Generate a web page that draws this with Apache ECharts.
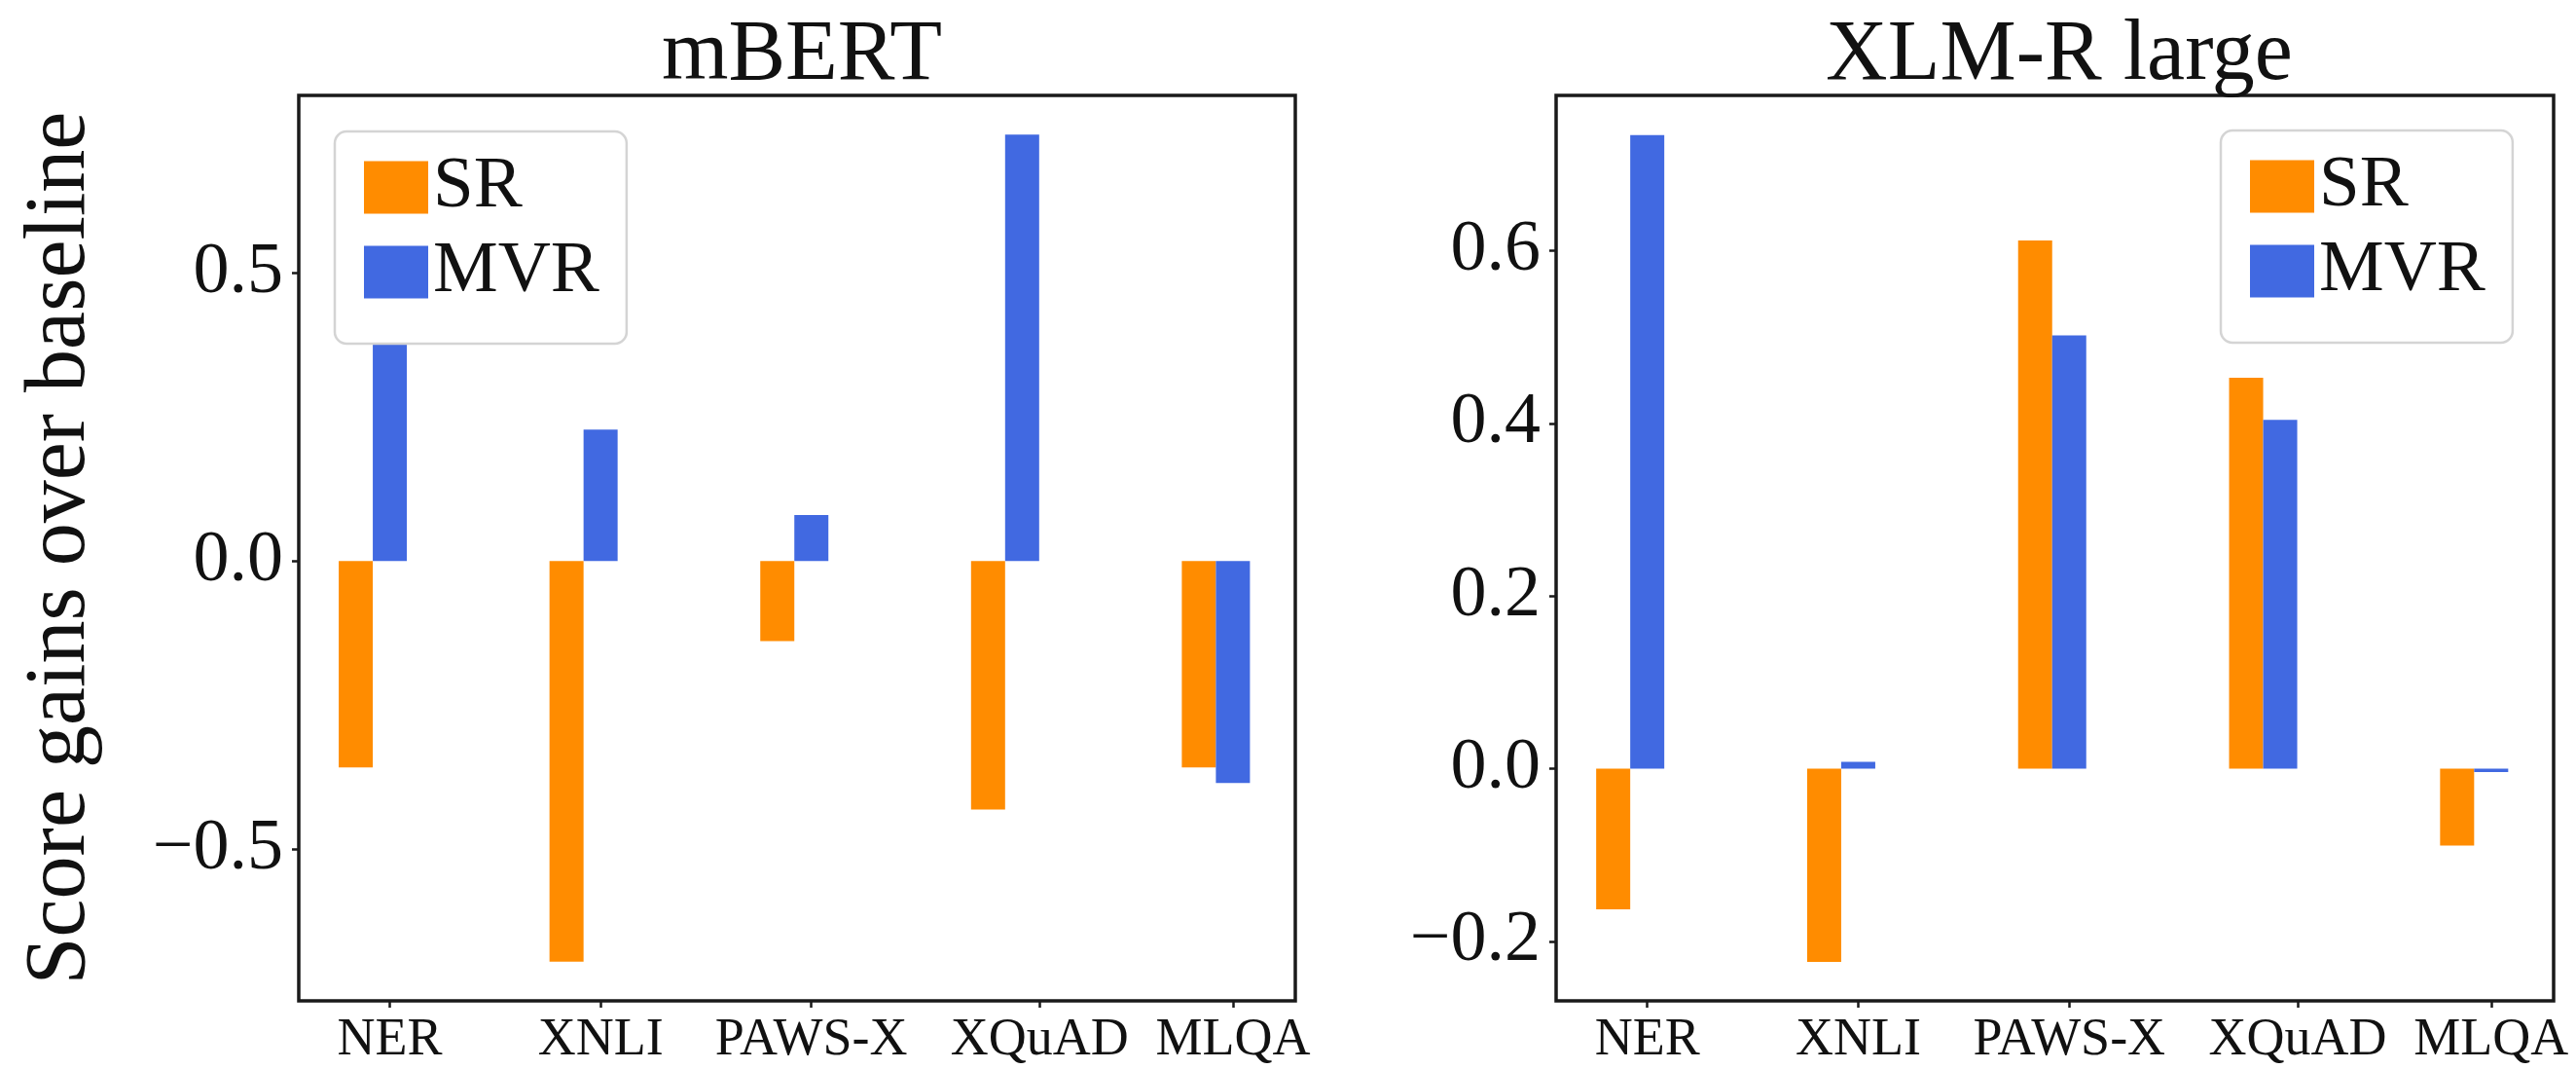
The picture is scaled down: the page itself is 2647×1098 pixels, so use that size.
<!DOCTYPE html>
<html>
<head>
<meta charset="utf-8">
<script src="https://cdn.jsdelivr.net/npm/echarts@6.0.0/dist/echarts.min.js"></script>
<style>
  html, body { margin: 0; padding: 0; background: #fff; }
  #main { width: 2647px; height: 1098px; }
</style>
</head>
<body>
<div id="main"></div>
<script>
var cats = ['NER', 'XNLI', 'PAWS-X', 'XQuAD', 'MLQA'];
var seriesNames = ['SR', 'MVR'];

// mBERT (left)
var mbertSR = [-0.358, -0.695, -0.139, -0.431, -0.358];
var mbertMVR = [0.55, 0.228, 0.080, 0.740, -0.385];
var mbertTicks = [-0.5, 0, 0.5];

// XLM-R large (right)
var xlmrSR = [-0.163, -0.224, 0.612, 0.453, -0.089];
var xlmrMVR = [0.734, 0.008, 0.502, 0.404, -0.004];
var xlmrTicks = [-0.2, 0, 0.2, 0.4, 0.6];

var FONT = 'Liberation Serif';
var ORANGE = '#FF8C00';
var BLUE = '#4169E1';
var INK = '#1a1a1a';

// the XQuAD tick sits a bit right of its bar in the original
var tickPos = cats.map(function (c, i) { return c === 'XQuAD' ? i + 0.083 : i; });

function pts(vals) {
    return vals.map(function (v, i) { return [i, v]; });
}

function fmtY(v) {
    var s = Math.abs(v).toFixed(1);
    return v < 0 ? '\u2212' + s : s;
}

function fmtX(v) {
    var best = 0;
    for (var i = 0; i < tickPos.length; i++) {
        if (Math.abs(tickPos[i] - v) < Math.abs(tickPos[best] - v)) best = i;
    }
    return cats[best];
}

function xAxis(idx) {
    return {
        type: 'value', gridIndex: idx, min: -0.432, max: 4.296,
        axisLine: { show: false, onZero: false },
        splitLine: { show: false },
        axisTick: { customValues: tickPos, length: 7, lineStyle: { color: INK, width: 2.5 } },
        axisLabel: { customValues: tickPos, formatter: fmtX, margin: 14,
            fontFamily: FONT, fontSize: 54, color: '#111' }
    };
}

function yAxis(idx, min, max, ticks, name) {
    var ax = {
        type: 'value', gridIndex: idx, min: min, max: max,
        axisLine: { show: false, onZero: false },
        splitLine: { show: false },
        axisTick: { customValues: ticks, length: 7, lineStyle: { color: INK, width: 2.5 } },
        axisLabel: { customValues: ticks, formatter: fmtY, margin: 16,
            fontFamily: FONT, fontSize: 74, color: '#111' }
    };
    if (name) {
        ax.name = name;
        ax.nameLocation = 'middle';
        ax.nameRotate = 90;
        ax.nameGap = 200;
        ax.nameTextStyle = { fontFamily: FONT, fontSize: 88, color: '#111' };
    }
    return ax;
}

function legend(left, top) {
    return {
        data: seriesNames, orient: 'vertical', left: left, top: top, z: 10,
        icon: 'rect', itemWidth: 66, itemHeight: 54, itemGap: 12,
        padding: [20, 28, 36, 30],
        backgroundColor: '#fff', borderColor: '#d4d4d4', borderWidth: 2.5, borderRadius: 12,
        selectedMode: false,
        textStyle: { fontFamily: FONT, fontSize: 75, color: '#111' }
    };
}

function bars(idx, sr, mvr) {
    return [
        { name: 'SR', type: 'bar', xAxisIndex: idx, yAxisIndex: idx, data: pts(sr),
          barWidth: 35, barGap: '0%', itemStyle: { color: ORANGE } },
        { name: 'MVR', type: 'bar', xAxisIndex: idx, yAxisIndex: idx, data: pts(mvr),
          barWidth: 35, barGap: '0%', itemStyle: { color: BLUE } },
        // empty slot so MVR lands on the tick, SR to its left
        { name: 'pad' + idx, type: 'bar', xAxisIndex: idx, yAxisIndex: idx, silent: true,
          data: pts(sr.map(function () { return 0; })),
          barWidth: 35, barGap: '0%', itemStyle: { opacity: 0 } }
    ];
}

var myChart = echarts.init(document.getElementById('main'));
var option = {
    backgroundColor: '#fff',
    animation: false,
    title: [
        { text: 'mBERT', left: 819, top: 9, textAlign: 'center',
          textStyle: { fontFamily: FONT, fontSize: 88, fontWeight: 'normal', color: '#111' } },
        { text: 'XLM-R large', left: 2111, top: 9, textAlign: 'center',
          textStyle: { fontFamily: FONT, fontSize: 88, fontWeight: 'normal', color: '#111' } }
    ],
    legend: [legend(344, 135), legend(2282, 134)],
    grid: [
        { left: 307, top: 98, width: 1024, height: 930, show: true,
          borderColor: INK, borderWidth: 3.5, backgroundColor: 'transparent' },
        { left: 1599, top: 98, width: 1025, height: 930, show: true,
          borderColor: INK, borderWidth: 3.5, backgroundColor: 'transparent' }
    ],
    xAxis: [xAxis(0), xAxis(1)],
    yAxis: [
        yAxis(0, -0.763, 0.808, mbertTicks, 'Score gains over baseline'),
        yAxis(1, -0.269, 0.780, xlmrTicks)
    ],
    series: bars(0, mbertSR, mbertMVR).concat(bars(1, xlmrSR, xlmrMVR))
};
myChart.setOption(option);
</script>
</body>
</html>
